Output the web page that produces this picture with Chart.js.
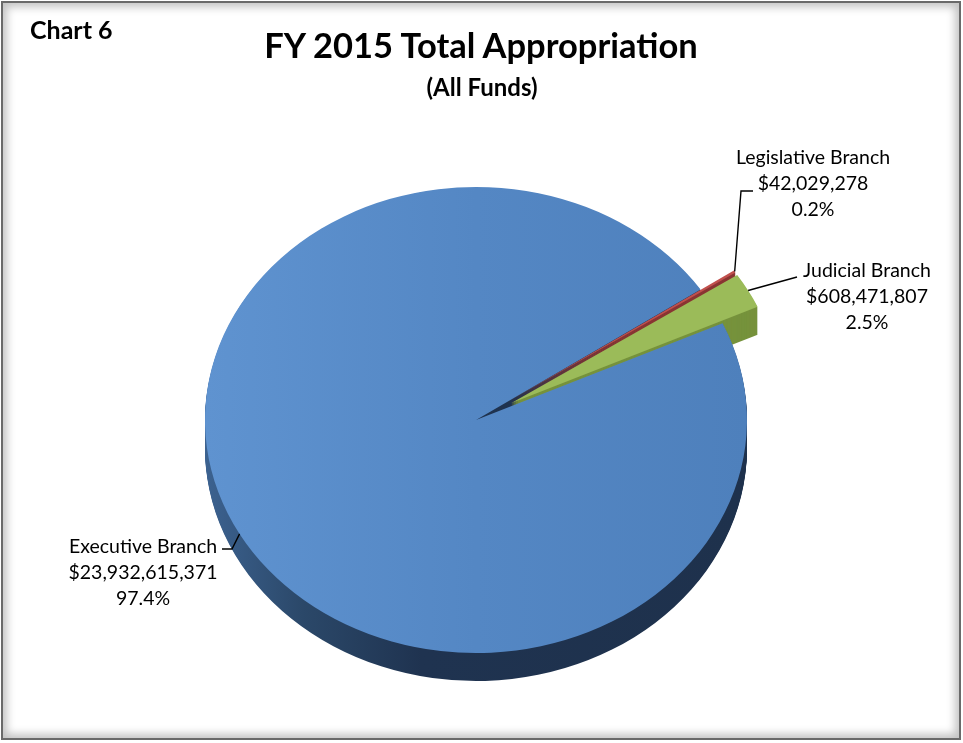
<!DOCTYPE html>
<html>
<head>
<meta charset="utf-8">
<script src="https://cdn.jsdelivr.net/npm/chart.js@4/dist/chart.umd.min.js"></script>
<style>
  html, body { margin: 0; padding: 0; background: #fff; }
  #wrap { position: relative; width: 963px; height: 743px; overflow: hidden; font-family: Lato, "Noto Sans", sans-serif; }
  #frame {
    position: absolute; left: 1px; top: 1px; width: 960px; height: 739px; box-sizing: border-box;
    border: 2px solid #6a6a6a;
    box-shadow: inset 0 0 9px 4px rgba(0,0,0,0.24);
    pointer-events: none;
  }
  .txt { position: absolute; font-weight: bold; color: #000; white-space: nowrap; }
  #chartno { left: 30px; top: 14px; font-size: 25px; }
  #title { left: 0; width: 962px; text-align: center; top: 24px; font-size: 34.5px; }
  #subtitle { left: 0; width: 964px; text-align: center; top: 72px; font-size: 24px; }
  canvas { position: absolute; left: 0; top: 0; }
</style>
</head>
<body>
<div id="wrap">
  <canvas id="pieChart" width="963" height="743"></canvas>
  <div class="txt" id="chartno">Chart 6</div>
  <div class="txt" id="title">FY 2015 Total Appropriation</div>
  <div class="txt" id="subtitle">(All Funds)</div>
  <div id="frame"></div>
</div>
<script>
  // data
  const branches = ['Executive Branch', 'Legislative Branch', 'Judicial Branch'];
  const amounts = [23932615371, 42029278, 608471807];

  // look
  const topColors = ['#4f81bd', '#c0504d', '#9bbb59'];
  const sideColors = ['#1f3350', '#8a3533', '#76923c'];
  const explode = [0, 40, 40];
  const TILT = 0.86;
  const DEPTH = 28;

  // label text positions and leader bends (from the slice outward)
  const labelSpots = [
    { x: 143, y: 547, via: [[232, 549], [222, 549]] },
    { x: 813, y: 158, via: [[741, 191], [753, 191]] },
    { x: 867, y: 271, via: [[797, 277]] }
  ];

  const total = amounts.reduce((a, b) => a + b, 0);
  const money = v => '$' + v.toLocaleString('en-US');

  function explodeVec(arc, dist) {
    const mid = (arc.startAngle + arc.endAngle) / 2;
    return { x: Math.cos(mid) * dist, y: Math.sin(mid) * dist };
  }

  const pie3d = {
    id: 'pie3d',
    beforeDatasetsDraw(chart) {
      const ctx = chart.ctx;
      const arcs = chart.getDatasetMeta(0).data;
      const cx = arcs[0].x, cy = arcs[0].y;
      const r = arcs[0].outerRadius;

      const sideGrad = ctx.createLinearGradient(cx - r, 0, cx + r, 0);
      sideGrad.addColorStop(0, '#3c6290');
      sideGrad.addColorStop(0.18, '#2b4869');
      sideGrad.addColorStop(0.4, '#1f3350');
      sideGrad.addColorStop(1, '#1e314c');

      const squash = dy => {
        ctx.translate(cx, cy + dy);
        ctx.scale(1, TILT);
        ctx.translate(-cx, -cy);
      };

      // side walls: stack the slices downward
      for (let d = DEPTH; d > 0; d--) {
        arcs.forEach((arc, i) => {
          const e = explodeVec(arc, explode[i]);
          ctx.save();
          squash(d);
          ctx.translate(e.x, e.y);
          ctx.beginPath();
          ctx.moveTo(arc.x, arc.y);
          ctx.arc(arc.x, arc.y, arc.outerRadius, arc.startAngle, arc.endAngle);
          ctx.closePath();
          ctx.fillStyle = i === 0 ? sideGrad : sideColors[i];
          ctx.fill();
          ctx.restore();
        });
      }

      // top faces
      arcs.forEach((arc, i) => {
        const e = explodeVec(arc, explode[i]);
        ctx.save();
        squash(0);
        ctx.translate(e.x, e.y);
        arc.draw(ctx);
        ctx.restore();
      });
      return false;
    },
    afterDraw(chart) {
      const ctx = chart.ctx;
      const arcs = chart.getDatasetMeta(0).data;
      ctx.save();
      ctx.strokeStyle = '#000';
      ctx.lineWidth = 1.4;
      arcs.forEach((arc, i) => {
        const e = explodeVec(arc, explode[i]);
        const mid = (arc.startAngle + arc.endAngle) / 2;
        const ax = arc.x + e.x + Math.cos(mid) * arc.outerRadius;
        const ay = arc.y + (e.y + Math.sin(mid) * arc.outerRadius) * TILT;
        const spot = labelSpots[i];
        ctx.beginPath();
        ctx.moveTo(ax, ay);
        spot.via.forEach(p => ctx.lineTo(p[0], p[1]));
        ctx.stroke();

        ctx.fillStyle = '#000';
        ctx.font = '19.5px Lato, "Noto Sans", sans-serif';
        ctx.textAlign = 'center';
        ctx.textBaseline = 'middle';
        const lines = [branches[i], money(amounts[i]), (amounts[i] / total * 100).toFixed(1) + '%'];
        lines.forEach((t, j) => ctx.fillText(t, spot.x, spot.y + j * 26));
      });
      ctx.restore();
    }
  };

  const ctx = document.getElementById('pieChart').getContext('2d');
  new Chart(ctx, {
    type: 'pie',
    data: {
      labels: branches,
      datasets: [{
        data: amounts,
        backgroundColor: (c) => {
          const area = c.chart.chartArea;
          if (c.dataIndex !== 0 || !area) return topColors[c.dataIndex];
          const g = c.chart.ctx.createLinearGradient(205, 0, 747, 0);
          g.addColorStop(0, '#5f93d0');
          g.addColorStop(0.5, '#5487c4');
          g.addColorStop(1, '#4e80bc');
          return g;
        },
        borderWidth: 0
      }]
    },
    options: {
      responsive: false,
      animation: false,
      events: [],
      rotation: 65.5,
      radius: 271,
      layout: { padding: { left: 0, right: 11, top: 97, bottom: 0 } },
      plugins: {
        legend: { display: false },
        tooltip: { enabled: false },
        title: { display: false }
      }
    },
    plugins: [pie3d]
  });
</script>
</body>
</html>
